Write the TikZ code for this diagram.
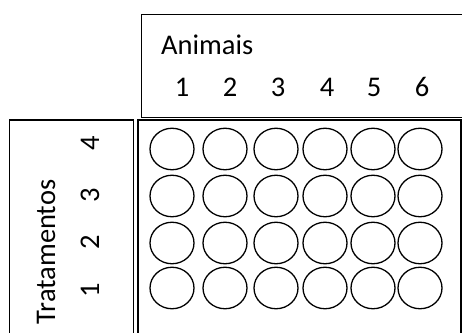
\documentclass[tikz,border=0pt]{standalone}
\usepackage{fontspec}
\setmainfont{Carlito}
\usepackage{tikz}
\usetikzlibrary{positioning,shapes.geometric}

\begin{document}
\begin{tikzpicture}[x=1pt,y=-1pt,
                    frame/.style={draw,line width=1.1pt},
                    well/.style={draw,ellipse,line width=1.3pt,minimum width=44pt,minimum height=41.5pt,inner sep=0pt},
                    lbl/.style={font=\fontsize{28.5}{32}\selectfont,inner sep=0pt}]

  \useasboundingbox (0,0) rectangle (462,332);
  \clip (0,0) rectangle (462,332);

  % boxes
  \draw[frame,line width=1.5pt] (141.5,14.5) rectangle (480,117.5);
  \draw[frame] (138,120) rectangle (461,345);
  \draw[frame] (9.5,120) rectangle (133.5,345);

  % column header
  \node[lbl,anchor=west] (animais) at (161,45) {Animais};
  \foreach \c/\x in {1/182,2/230,3/278,4/327,5/374,6/422}
    \node[lbl] (a\c) at (\x,87) {\c};

  % row header
  \node[lbl,rotate=90] (trat) at (46,252) {Tratamentos};
  \foreach \r/\y in {4/143,3/195,2/242,1/290}
    \node[lbl,rotate=90] (t\r) at (90,\y) {\r};

  % wells
  \foreach \r/\y in {4/149,3/196,2/243,1/288}
    \foreach \c/\x in {1/172,2/225,3/276,4/325,5/373,6/420}
      \node[well] (w\r\c) at (\x,\y) {};
\end{tikzpicture}
\end{document}
